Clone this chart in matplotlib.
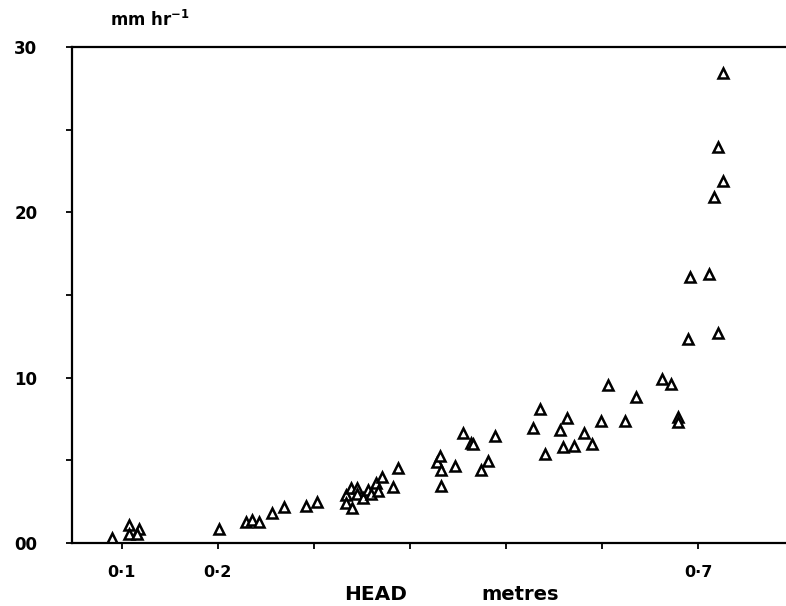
import matplotlib
matplotlib.use("Agg")
import matplotlib.pyplot as plt

# Infiltration rate against head
head_m = [0.090, 0.108, 0.118, 0.108, 0.116, 0.201, 0.229, 0.236, 0.243,
          0.256, 0.269, 0.292, 0.303,
          0.333, 0.333, 0.340, 0.339, 0.345, 0.345, 0.351, 0.356, 0.359,
          0.365, 0.367, 0.371, 0.382, 0.388,
          0.428, 0.431, 0.432, 0.432, 0.447, 0.455, 0.463, 0.466, 0.474,
          0.481, 0.488, 0.528, 0.535,
          0.540, 0.556, 0.563, 0.559, 0.571, 0.581, 0.589, 0.599, 0.606,
          0.624, 0.635, 0.662, 0.671, 0.679, 0.679,
          0.689, 0.720, 0.711, 0.691, 0.716, 0.726, 0.720, 0.726]
rate_mm_hr = [0.3, 1.09, 0.85, 0.54, 0.54, 0.83, 1.29, 1.39, 1.29,
              1.81, 2.2, 2.24, 2.5,
              2.90, 2.42, 2.12, 3.33, 3.33, 2.96, 2.72, 3.21, 2.96,
              3.63, 3.15, 3.99, 3.39, 4.54,
              4.90, 5.26, 4.42, 3.45, 4.66, 6.65, 6.05, 5.99, 4.42,
              4.96, 6.47, 6.96, 8.11,
              5.38, 6.84, 7.56, 5.81, 5.87, 6.65, 5.99, 7.38, 9.56,
              7.38, 8.83, 9.92, 9.62, 7.62, 7.32,
              12.34, 12.70, 16.27, 16.09, 20.93, 21.90, 23.96, 28.43]

x_ticks = [0.1, 0.2, 0.3, 0.4, 0.5, 0.6, 0.7]
x_tick_labels = ["0·1", "0·2", "", "", "", "", "0·7"]
y_ticks = [0, 5, 10, 15, 20, 25, 30]
y_tick_labels = ["00", "", "10", "", "20", "", "30"]

plt.rcParams["font.family"] = ["DejaVu Sans"]

fig = plt.figure(figsize=(7.86, 6.06), dpi=100)
ax = fig.add_axes([72 / 786, 63 / 606, (785 - 72) / 786, (543 - 47) / 606])

ax.plot(head_m, rate_mm_hr, linestyle="none", marker="^", markersize=6.5,
        markerfacecolor="white", markeredgecolor="black", markeredgewidth=1.8)

ax.set_xlim(0.0485, 0.790)
ax.set_ylim(0, 30)

ax.spines["right"].set_visible(False)
for side in ("left", "top", "bottom"):
    ax.spines[side].set_linewidth(1.6)

ax.set_xticks(x_ticks)
ax.set_xticklabels(x_tick_labels, fontsize=11.5, fontweight="bold")
ax.set_yticks(y_ticks)
ax.set_yticklabels(y_tick_labels, fontsize=12, fontweight="bold")
ax.tick_params(axis="x", direction="out", length=4, width=1.3, pad=12)
ax.tick_params(axis="y", direction="out", length=4, width=1.3, pad=21)

fig.text(376 / 786, 1 - 594 / 606, "HEAD", ha="center", va="center",
         fontsize=14.5, fontweight="bold")
fig.text(520 / 786, 1 - 594 / 606, "metres", ha="center", va="center",
         fontsize=14, fontweight="bold")
fig.text(150 / 786, 1 - 20 / 606, r"mm hr$^{\mathbf{-1}}$", ha="center",
         va="center", fontsize=12, fontweight="bold")

fig.savefig("out.png", dpi=100)
